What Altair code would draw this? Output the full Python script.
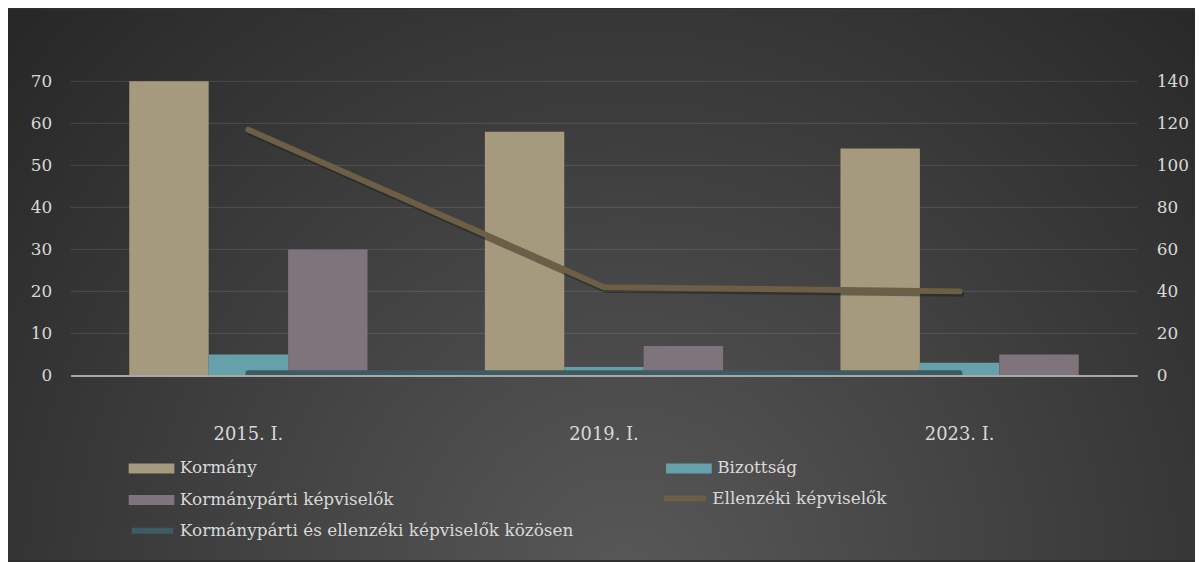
import altair as alt
import pandas as pd

periods = ["2015. I.", "2019. I.", "2023. I."]
bar_series = ["Kormány", "Bizottság", "Kormánypárti képviselők"]
line_a = "Ellenzéki képviselők"
line_b = "Kormánypárti és ellenzéki képviselők közösen"

kormany = [70, 58, 54]
bizottsag = [5, 2, 3]
kormanyparti = [30, 7, 5]
ellenzeki = [117, 42, 40]
kozosen = [1, 1, 1]

left_ticks = [0, 10, 20, 30, 40, 50, 60, 70]
right_ticks = [0, 20, 40, 60, 80, 100, 120, 140]

bar_colors = ["#a59a7e", "#66a0ab", "#7f747b"]
color_a = "#6c5f45"
color_b = "#3d5b62"

bar_rows = []
for name, vals in zip(bar_series, [kormany, bizottsag, kormanyparti]):
    for p, v in zip(periods, vals):
        bar_rows.append({"period": p, "series": name, "value": v})
bar_df = pd.DataFrame(bar_rows)
df_a = pd.DataFrame({"period": periods, "series": line_a, "value": ellenzeki})
df_b = pd.DataFrame({"period": periods, "series": line_b, "value": kozosen})
grid_df = pd.DataFrame({"value": left_ticks[1:]})

FONT = "DejaVu Serif"
LABEL = "#d9d9d9"
W, H = 1074, 296
PAD = {"left": 63, "top": 72, "right": 58, "bottom": 186}

RECT_PATH = "M-1,-1H8.2V1H-1Z"
LINE_PATH = "M-0.4,0H8.0"


def make_legend(x, y, stroke=False, **kw):
    return alt.Legend(
        title=None,
        orient="none",
        legendX=x,
        legendY=y,
        symbolType=LINE_PATH if stroke else RECT_PATH,
        symbolSize=100,
        symbolStrokeWidth=6 if stroke else 0,
        labelOffset=38,
        labelFont=FONT,
        labelFontSize=17,
        labelColor=LABEL,
        labelLimit=600,
        padding=0,
        **kw,
    )


x_axis = alt.Axis(
    title=None,
    labelAngle=0,
    domain=True,
    domainColor="#a8a8a8",
    domainWidth=2,
    ticks=False,
    labelPadding=51,
    labelFont=FONT,
    labelFontSize=18,
    labelColor=LABEL,
    zindex=1,
)
x_enc = alt.X(
    "period:N",
    sort=periods,
    scale=alt.Scale(paddingInner=0.33, paddingOuter=0.165),
    axis=x_axis,
)

bg = alt.Chart(alt.Data(values=[{"a": 1}])).mark_rect(
    color={
        "gradient": "radial",
        "stops": [
            {"offset": 0, "color": "#585858"},
            {"offset": 1, "color": "#262626"},
        ],
        "x1": 0.52, "y1": 0.75, "r1": 0,
        "x2": 0.52, "y2": 0.75, "r2": 0.72,
    }
).encode(
    x=alt.value(-PAD["left"]),
    x2=alt.value(W + PAD["right"]),
    y=alt.value(-PAD["top"]),
    y2=alt.value(H + PAD["bottom"]),
)

left_scale = alt.Scale(domain=[0, 70], nice=False)
left_axis = alt.Axis(
    title=None,
    orient="left",
    values=left_ticks,
    domain=False,
    ticks=False,
    grid=False,
    labelPadding=19,
    labelFont=FONT,
    labelFontSize=17,
    labelColor=LABEL,
    zindex=1,
)

grid = alt.Chart(grid_df).mark_rule(color="#ffffff", opacity=0.12, strokeWidth=1).encode(
    y=alt.Y("value:Q", scale=left_scale, axis=left_axis),
)

bars = alt.Chart(bar_df).mark_bar().encode(
    x=x_enc,
    xOffset=alt.XOffset("series:N", sort=bar_series,
                        scale=alt.Scale(domain=bar_series, paddingInner=0, paddingOuter=0)),
    y=alt.Y("value:Q", scale=left_scale, axis=left_axis),
    fill=alt.Fill(
        "series:N",
        scale=alt.Scale(domain=bar_series, range=bar_colors),
        legend=make_legend(55, 381, columns=2, direction="horizontal",
                           columnPadding=270, rowPadding=14),
    ),
)

left_layer = alt.layer(grid, bars)

right_scale = alt.Scale(domain=[0, 140], nice=False)

shadow_a = alt.Chart(df_a).mark_line(
    strokeWidth=6, strokeCap="round", strokeJoin="round",
    color="#1a1a1a", opacity=0.45, yOffset=2.5, xOffset=1.5,
).encode(
    x=x_enc,
    y=alt.Y("value:Q", scale=right_scale, axis=None),
)

line_a_chart = alt.Chart(df_a).mark_line(strokeWidth=6, strokeCap="round", strokeJoin="round").encode(
    x=x_enc,
    y=alt.Y(
        "value:Q",
        scale=right_scale,
        axis=alt.Axis(
            title=None,
            orient="right",
            values=right_ticks,
            domain=False,
            ticks=False,
            grid=False,
            labelPadding=19,
            labelFont=FONT,
            labelFontSize=17,
            labelColor=LABEL,
            zindex=1,
        ),
    ),
    stroke=alt.Stroke(
        "series:N",
        scale=alt.Scale(domain=[line_a], range=[color_a]),
        legend=make_legend(591, 411.5, stroke=True),
    ),
)

line_b_chart = alt.Chart(df_b).mark_line(strokeWidth=6, strokeCap="round", strokeJoin="round").encode(
    x=x_enc,
    y=alt.Y("value:Q", scale=right_scale, axis=None),
    stroke=alt.Stroke(
        "series:N",
        scale=alt.Scale(domain=[line_b], range=[color_b]),
        legend=make_legend(55, 444, stroke=True),
    ),
)

chart = (
    alt.layer(bg, left_layer, shadow_a, line_a_chart, line_b_chart)
    .resolve_scale(y="independent", stroke="independent")
    .properties(
        width=W,
        height=H,
        padding=PAD,
        autosize=alt.AutoSizeParams(type="none"),
        background="#2e2e2e",
    )
    .configure_view(stroke=None)
    .configure(font=FONT)
)

chart.save("out.html", embed_options={"renderer": "svg", "actions": False})
